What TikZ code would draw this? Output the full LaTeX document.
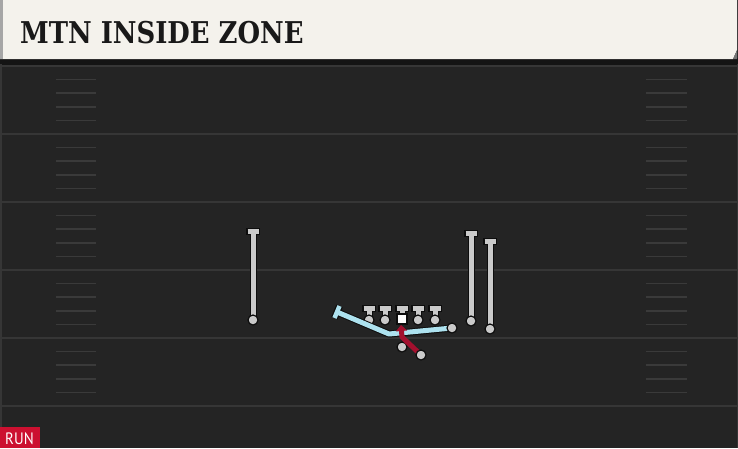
\documentclass[tikz,border=0pt]{standalone}
\usepackage{fontspec}
\usepackage{tikz}
\usepackage{xcolor}
\usetikzlibrary{arrows.meta}

\newfontfamily\titlefont{DejaVu Serif Condensed}
\newfontfamily\tagfont{PT Sans}

\definecolor{headbg}{HTML}{F4F2EC}
\definecolor{fieldbg}{HTML}{242424}
\definecolor{yardcol}{HTML}{363636}
\definecolor{hashcol}{HTML}{3A3A3A}
\definecolor{playcol}{HTML}{CACACA}
\definecolor{blockcol}{HTML}{ADE2EF}
\definecolor{runcol}{HTML}{A3102E}
\definecolor{tagcol}{HTML}{CC1030}

\begin{document}
\begin{tikzpicture}[x=1pt, y=-1pt,
                    yard/.style={yardcol, line width=2pt},
                    hash/.style={hashcol, line width=1.6pt},
                    edge/.style={black!95, line width=7pt},   % dark rim under each line
                    stem/.style={playcol, line width=5pt},
                    dot/.style={fill=playcol, draw=black!95, line width=1.2pt}]

  \useasboundingbox (0,0) rectangle (738,448);

  % === Field ===
  \fill[fieldbg] (0,0) rectangle (738,448);
  \fill[black!92] (0,58) rectangle (738,65);
  \foreach \y in {66,134,202,270,338,406} {
    \draw[yard] (0,\y) -- (738,\y);
  }
  \foreach \y in {66,134,202,270,338} {
    \foreach \k in {1,...,4} {
      \draw[hash] (56,\y+\k*13.6) -- (96,\y+\k*13.6);
      \draw[hash] (646,\y+\k*13.6) -- (687,\y+\k*13.6);
    }
  }
  \draw[yardcol, line width=1.5pt] (0.75,64) -- (0.75,448);
  \draw[yardcol, line width=1.5pt] (737.25,64) -- (737.25,448);

  % === Header ===
  \fill[headbg] (0,0) -- (737,0) -- (737,50) -- (733,59) -- (0,59) -- cycle;
  \fill[black!55] (733,59) -- (737,50) -- (737,59) -- cycle;
  \fill[black!35] (0,0) rectangle (3,59);
  \node[anchor=base west, inner sep=0pt, text=black!90] (title) at (20,43)
    {\scalebox{0.96}[1]{\fontsize{30}{30}\titlefont\bfseries MTN INSIDE ZONE}};

  % === Receivers ===
  \foreach \x/\yt/\yb in {253/231/320, 471/233/321, 490/241/329} {
    \draw[edge] (\x,\yt) -- (\x,\yb);
    \draw[edge] (\x-7,\yt) -- (\x+7,\yt);
    \draw[stem] (\x,\yt) -- (\x,\yb);
    \draw[stem] (\x-5.5,\yt) -- (\x+5.5,\yt);
    \filldraw[dot] (\x,\yb) circle (5pt);
  }

  % === Offensive line ===
  \foreach \x in {369,385,418,435} {
    \draw[edge] (\x,308) -- (\x,320);
    \draw[edge] (\x-7,308) -- (\x+7,308);
    \draw[stem] (\x,308) -- (\x,320);
    \draw[stem] (\x-5.5,308) -- (\x+5.5,308);
    \filldraw[dot] (\x,320) circle (5pt);
  }
  \draw[edge] (402,308) -- (402,316);
  \draw[edge] (395,308) -- (409,308);
  \draw[stem] (402,308) -- (402,316);
  \draw[stem] (396.5,308) -- (407.5,308);

  % === Blocking path ===
  \coordinate (BS) at (337,312);
  \coordinate (BK) at (389,334);
  \coordinate (TE) at (452,328);
  \coordinate (BA) at (334.5,318);
  \coordinate (BB) at (339.5,306);
  \draw[edge, line join=round] (BS) -- (BK) -- (TE);
  \draw[edge] (BA) -- (BB);
  \draw[blockcol, line width=5pt, line join=round] (BS) -- (BK) -- (TE);
  \draw[blockcol, line width=4.5pt] (BA) -- (BB);
  \filldraw[dot] (TE) circle (5pt);

  % === Center ===
  \filldraw[fill=white, draw=black!95, line width=1.2pt] (397,314) rectangle (407,324);

  % === Backfield ===
  \coordinate (QB) at (402,347);
  \coordinate (RB) at (421,355);
  \coordinate (RK) at (402,337);
  \coordinate (HO) at (401,325);
  \filldraw[dot] (QB) circle (5pt);
  \draw[runcol, line width=5pt, line join=round, -{Triangle[length=6pt, width=11pt]}]
    (RB) -- (RK) -- (HO);
  \filldraw[dot] (RB) circle (5pt);

  % === Play tag ===
  \fill[tagcol] (0,427) rectangle (40,448);
  \node[anchor=base, inner sep=0pt, text=white] (tag) at (19.5,444.5)
    {\scalebox{0.9}[1]{\fontsize{16.5}{16.5}\tagfont RUN}};

\end{tikzpicture}
\end{document}
